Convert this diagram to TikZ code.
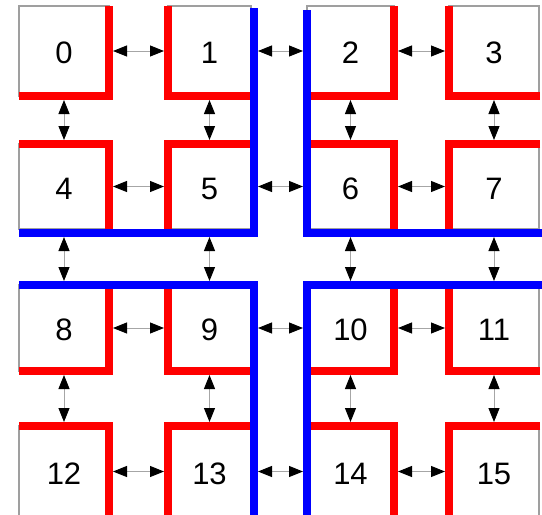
\documentclass[tikz,border=0pt]{standalone}
\usepackage{fontspec}
\setmainfont{Liberation Sans}
\usetikzlibrary{arrows.meta}
\begin{document}
\begin{tikzpicture}[x=1pt,y=-1pt,
  box/.style={draw=gray!75, line width=1.1pt, fill=white, inner sep=0pt, outer sep=0pt,
    font=\fontsize{31}{31}\selectfont, text height=25pt, text depth=0pt},
  c0/.style={minimum width=90pt}, c1/.style={minimum width=83pt},
  c2/.style={minimum width=87pt}, c3/.style={minimum width=90pt},
  r0/.style={minimum height=90pt}, r1/.style={minimum height=85pt},
  r2/.style={minimum height=86pt}, r3/.style={minimum height=91pt},
  redw/.style={draw=red, line width=7.5pt},
  bluew/.style={draw=blue, line width=8pt},
  tip/.tip={Triangle[length=14pt,width=11pt,color=black]},
  arr/.style={draw=gray!70, line width=0.9pt, tip-tip},
  sa/.style={shorten <=4pt, shorten >=4pt},
  sb/.style={shorten <=7pt, shorten >=4pt},
  sc/.style={shorten <=8pt, shorten >=4pt}
]
\useasboundingbox (0,0) rectangle (542,515);
\clip (0,0) rectangle (542,515);
% boxes
\node[box,c0,r0] (b0)  at (64,51)    {0};
\node[box,c1,r0] (b1)  at (209.5,51) {1};
\node[box,c2,r0] (b2)  at (350.5,51) {2};
\node[box,c3,r0] (b3)  at (494,51)   {3};
\node[box,c0,r1] (b4)  at (64,186.5)    {4};
\node[box,c1,r1] (b5)  at (209.5,186.5) {5};
\node[box,c2,r1] (b6)  at (350.5,186.5) {6};
\node[box,c3,r1] (b7)  at (494,186.5)   {7};
\node[box,c0,r2] (b8)  at (64,328)    {8};
\node[box,c1,r2] (b9)  at (209.5,328) {9};
\node[box,c2,r2] (b10) at (350.5,328) {10};
\node[box,c3,r2] (b11) at (494,328)   {11};
\node[box,c0,r3] (b12) at (64,471.5)    {12};
\node[box,c1,r3] (b13) at (209.5,471.5) {13};
\node[box,c2,r3] (b14) at (350.5,471.5) {14};
\node[box,c3,r3] (b15) at (494,471.5)   {15};
% red walls
\draw[redw] (109,6) -- (109,96) -- (19,96);
\draw[redw] (168,6) -- (168,96) -- (251,96);
\draw[redw] (394,6) -- (394,96) -- (307,96);
\draw[redw] (449,6) -- (449,96) -- (540,96);
\draw[redw] (19,144) -- (109,144) -- (109,229);
\draw[redw] (251,144) -- (168,144) -- (168,229);
\draw[redw] (307,144) -- (394,144) -- (394,229);
\draw[redw] (540,144) -- (449,144) -- (449,229);
\draw[redw] (109,285) -- (109,371) -- (19,371);
\draw[redw] (168,285) -- (168,371) -- (251,371);
\draw[redw] (394,285) -- (394,371) -- (307,371);
\draw[redw] (449,285) -- (449,371) -- (540,371);
\draw[redw] (19,426) -- (109,426) -- (109,520);
\draw[redw] (251,426) -- (168,426) -- (168,520);
\draw[redw] (307,426) -- (394,426) -- (394,520);
\draw[redw] (540,426) -- (449,426) -- (449,520);
% blue walls
\draw[bluew] (254,8) -- (254,233) -- (19,233);
\draw[bluew] (307,10) -- (307,233) -- (542,233);
\draw[bluew] (19,285) -- (254,285) -- (254,520);
\draw[bluew] (542,285) -- (307,285) -- (307,520);
% horizontal links
\foreach \a/\b in {0/1,4/5,8/9,12/13,2/3,6/7,10/11,14/15}
  \draw[arr,sa] (b\a) -- (b\b);
\foreach \a/\b in {1/2,5/6,9/10,13/14}
  \draw[arr,sb] (b\a) -- (b\b);
% vertical links
\foreach \a/\b in {0/4,1/5,2/6,3/7,8/12,9/13,10/14,11/15}
  \draw[arr,sa] (b\a) -- (b\b);
\foreach \a/\b in {4/8,5/9,6/10,7/11}
  \draw[arr,sc] (b\a) -- (b\b);
\end{tikzpicture}
\end{document}
